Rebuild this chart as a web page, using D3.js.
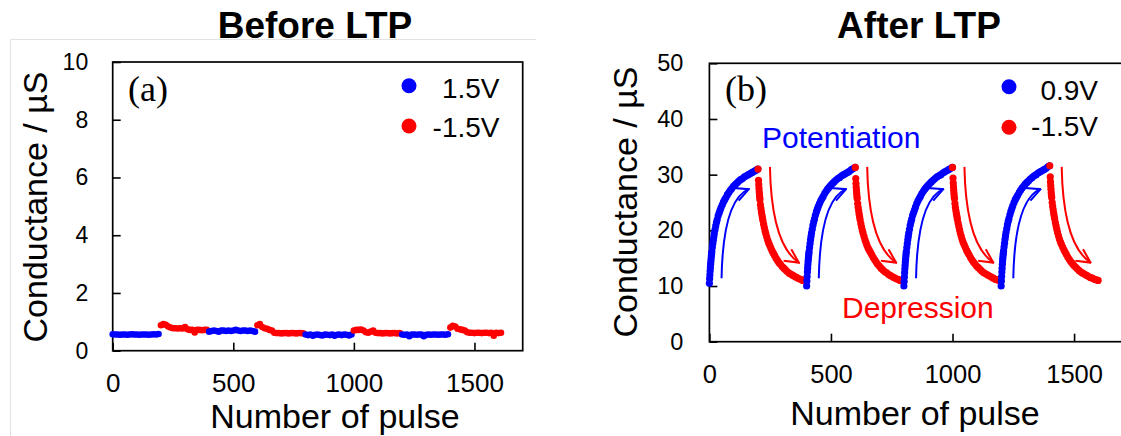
<!DOCTYPE html>
<html>
<head>
<meta charset="utf-8">
<script src="https://cdn.jsdelivr.net/npm/d3@7"></script>
<style>
  body { margin: 0; background: #fff; }
  svg { display: block; font-family: "Liberation Sans", Arial, sans-serif; }
  .tick line { stroke: #000; stroke-width: 1.6; }
  .tick text { fill: #000; font-family: "Liberation Sans", Arial, sans-serif; }
</style>
</head>
<body>
<div id="chart"></div>
<script>
// two panels: conductance vs pulse number, before / after LTP

const pulseTicks = [0, 500, 1000, 1500];
const beforeTicks = [0, 2, 4, 6, 8, 10];
const afterTicks = [0, 10, 20, 30, 40, 50];

// --- before LTP (read every 10 pulses) ---
const beforeStep = 10;
const beforeBlueStarts = [0, 400, 800, 1200];
const beforeRedStarts = [200, 600, 1000, 1400];
const beforeBlue1 = [0.57,0.56,0.56,0.55,0.56,0.56,0.55,0.56,0.57,0.56,0.56,0.55,0.56,0.56,0.56,0.55,0.56,0.57,0.56,0.58];
const beforeBlue2 = [0.66,0.68,0.70,0.68,0.66,0.70,0.70,0.68,0.70,0.68,0.70,0.72,0.70,0.68,0.70,0.70,0.68,0.70,0.68,0.66];
const beforeBlue3 = [0.56,0.54,0.56,0.52,0.55,0.56,0.54,0.53,0.56,0.55,0.54,0.56,0.52,0.55,0.56,0.54,0.56,0.55,0.53,0.56];
const beforeBlue4 = [0.56,0.55,0.56,0.50,0.56,0.56,0.55,0.56,0.56,0.50,0.55,0.56,0.55,0.56,0.56,0.55,0.56,0.56,0.55,0.57];
const beforeRed1 = [0.88,0.92,0.90,0.84,0.80,0.78,0.78,0.77,0.78,0.77,0.82,0.74,0.72,0.72,0.63,0.72,0.72,0.71,0.72,0.72];
const beforeRed2 = [0.88,0.92,0.82,0.78,0.76,0.72,0.70,0.62,0.61,0.61,0.60,0.61,0.61,0.60,0.61,0.61,0.60,0.61,0.61,0.60];
const beforeRed3 = [0.70,0.72,0.72,0.73,0.70,0.64,0.62,0.66,0.70,0.62,0.61,0.61,0.60,0.61,0.61,0.60,0.61,0.61,0.60,0.61];
const beforeRed4 = [0.80,0.86,0.84,0.76,0.74,0.72,0.70,0.64,0.62,0.62,0.61,0.62,0.62,0.61,0.62,0.62,0.61,0.62,0.52,0.62,0.61,0.62];

// --- after LTP ---
const potStarts = [0, 400, 800, 1200];
const depStarts = [200, 600, 1000, 1400];
const potOffsets = [0,1,2,3,4,5,6,7,8,9,10,12,14,16,18,20,23,26,29,32,36,40,44,48,53,58,63,68,74,80,86,92,99,106,113,120,128,136,144,152,160,168,176,184,192,199];
const pot1 = [10.5,11.3,12.0,12.7,13.3,13.9,14.4,14.9,15.4,15.8,16.2,16.9,17.6,18.2,18.8,19.4,20.1,20.8,21.4,21.9,22.6,23.1,23.6,24.1,24.6,25.1,25.5,25.9,26.4,26.8,27.2,27.5,27.9,28.2,28.5,28.8,29.1,29.3,29.6,29.8,30.0,30.2,30.4,30.6,30.8,31.0];
const pot2 = [10.0,10.9,11.7,12.5,13.2,13.8,14.4,14.9,15.4,15.8,16.2,16.9,17.6,18.3,18.9,19.5,20.2,20.9,21.5,22.0,22.7,23.3,23.8,24.3,24.8,25.3,25.7,26.1,26.6,27.0,27.4,27.7,28.1,28.4,28.7,29.0,29.3,29.5,29.8,30.0,30.2,30.4,30.6,30.9,31.1,31.3];
const pot3 = [10.0,10.8,11.6,12.4,13.1,13.7,14.3,14.8,15.3,15.8,16.2,16.9,17.6,18.3,18.9,19.5,20.2,20.9,21.5,22.0,22.7,23.2,23.7,24.2,24.8,25.3,25.7,26.1,26.6,27.0,27.4,27.7,28.1,28.4,28.7,29.0,29.3,29.6,29.8,30.0,30.3,30.5,30.7,30.9,31.1,31.3];
const pot4 = [10.0,10.9,11.7,12.5,13.2,13.9,14.5,15.0,15.5,15.9,16.3,17.0,17.7,18.4,19.0,19.6,20.3,21.0,21.6,22.1,22.8,23.4,23.9,24.4,25.0,25.5,25.9,26.3,26.8,27.2,27.6,27.9,28.3,28.6,28.9,29.2,29.5,29.8,30.0,30.3,30.5,30.7,30.9,31.1,31.4,31.6];
const depOffsets = [0,2,3,4,5,6,7,8,10,12,14,16,18,20,23,26,29,32,36,40,44,48,53,58,63,68,74,80,86,92,99,106,113,120,128,136,144,152,160,168,176,184,192,199];
const dep1 = [31.0,29.0,28.2,27.5,26.9,26.4,25.9,25.5,24.6,23.9,23.3,22.8,22.3,21.8,21.1,20.5,19.9,19.4,18.8,18.2,17.7,17.3,16.8,16.3,15.9,15.5,15.0,14.6,14.2,13.9,13.5,13.2,12.9,12.6,12.3,12.1,11.9,11.7,11.5,11.3,11.2,11.0,10.9,10.8];
const dep2 = [31.3,29.3,28.4,27.7,27.1,26.6,26.1,25.7,24.8,24.1,23.5,22.9,22.4,21.9,21.2,20.6,20.0,19.5,18.9,18.3,17.8,17.3,16.8,16.4,16.0,15.6,15.1,14.7,14.3,13.9,13.6,13.2,12.9,12.6,12.4,12.1,11.9,11.7,11.5,11.3,11.2,11.0,10.9,10.8];
const dep3 = [31.3,29.4,28.5,27.8,27.2,26.6,26.1,25.7,24.8,24.1,23.5,23.0,22.5,22.0,21.3,20.7,20.1,19.5,18.9,18.3,17.8,17.4,16.9,16.4,16.0,15.6,15.1,14.7,14.3,14.0,13.6,13.3,13.0,12.7,12.4,12.2,12.0,11.8,11.6,11.4,11.2,11.1,11.0,10.9];
const dep4 = [31.6,29.6,28.7,28.0,27.4,26.8,26.3,25.9,25.0,24.3,23.7,23.1,22.6,22.1,21.4,20.8,20.2,19.6,19.0,18.4,17.9,17.5,17.0,16.5,16.1,15.7,15.2,14.8,14.4,14.1,13.7,13.4,13.1,12.8,12.5,12.3,12.1,11.9,11.7,11.5,11.4,11.2,11.1,11.0];

// arrow annotations, [pulse offset from cycle start, conductance]
const upArrow = [[50, 11.4], [56, 25.5], [162, 27.4]];
const downArrow = [[249, 31.4], [255, 17.5], [368, 14.2]];

const blue = "#0000ff";
const red = "#ff0000";

const svg = d3.select("#chart").append("svg")
  .attr("width", 1121)
  .attr("height", 436);

svg.append("path")
  .attr("d", "M10.5,436 V39.5 H536")
  .attr("fill", "none")
  .attr("stroke", "#e2e2e2")
  .attr("stroke-width", 1);

const defs = svg.append("defs");
[["headBlue", blue], ["headRed", red]].forEach(([id, c]) => {
  defs.append("marker")
    .attr("id", id)
    .attr("markerUnits", "userSpaceOnUse")
    .attr("viewBox", "0 0 14 14")
    .attr("refX", 13).attr("refY", 7)
    .attr("markerWidth", 16).attr("markerHeight", 16)
    .attr("orient", "auto")
    .append("path")
    .attr("d", "M1,1 L13,7 L1,13")
    .attr("fill", "none")
    .attr("stroke", c)
    .attr("stroke-width", 1.8);
});

function panel(opt) {
  const x = d3.scaleLinear().domain([0, 1700]).range(opt.xr);
  const y = d3.scaleLinear().domain(opt.yd).range(opt.yr);
  const g = svg.append("g");

  g.append("g")
    .attr("transform", `translate(0, ${opt.yr[0]})`)
    .call(d3.axisBottom(x).tickValues(pulseTicks).tickFormat(d3.format("d"))
      .tickSizeInner(-8).tickSizeOuter(0).tickPadding(opt.xPad))
    .call(a => a.select(".domain").remove())
    .call(a => a.attr("font-family", null).attr("font-size", null))
    .selectAll("text").style("font-size", opt.xFont + "px");

  g.append("g")
    .attr("transform", `translate(${opt.xr[0]}, 0)`)
    .call(d3.axisLeft(y).tickValues(opt.yTicks).tickFormat(d3.format("d"))
      .tickSizeInner(-8).tickSizeOuter(0).tickPadding(opt.yPad))
    .call(a => a.select(".domain").remove())
    .call(a => a.attr("font-family", null).attr("font-size", null))
    .selectAll("text").style("font-size", opt.yFont + "px");

  g.append("rect")
    .attr("x", opt.xr[0]).attr("y", opt.yr[1])
    .attr("width", opt.xr[1] - opt.xr[0])
    .attr("height", opt.yr[0] - opt.yr[1])
    .attr("fill", "none")
    .attr("stroke", "#000")
    .attr("stroke-width", 1.7);

  return { x, y, g };
}

// ---------- panel (a) ----------
const A = panel({ xr: [112.7, 522.7], yd: [0, 10], yr: [350.7, 62], yTicks: beforeTicks,
  xPad: 23, xFont: 26, yPad: 24.5, yFont: 23 });

const beforeSegs = [
  [beforeBlueStarts[0], beforeBlue1, blue], [beforeRedStarts[0], beforeRed1, red],
  [beforeBlueStarts[1], beforeBlue2, blue], [beforeRedStarts[1], beforeRed2, red],
  [beforeBlueStarts[2], beforeBlue3, blue], [beforeRedStarts[2], beforeRed3, red],
  [beforeBlueStarts[3], beforeBlue4, blue], [beforeRedStarts[3], beforeRed4, red]
];
beforeSegs.forEach(([start, vals, c]) => {
  A.g.append("g").selectAll("circle")
    .data(vals)
    .join("circle")
    .attr("cx", (d, i) => A.x(start + i * beforeStep))
    .attr("cy", d => A.y(d))
    .attr("r", 3.3)
    .attr("fill", c);
});

// ---------- panel (b) ----------
const B = panel({ xr: [709.4, 1122.7], yd: [0, 50], yr: [341.7, 63.3], yTicks: afterTicks,
  xPad: 23.5, xFont: 25.5, yPad: 26, yFont: 23.5 });

const potSeries = [pot1, pot2, pot3, pot4];
const depSeries = [dep1, dep2, dep3, dep4];
potSeries.forEach((vals, k) => {
  B.g.append("g").selectAll("circle")
    .data(vals)
    .join("circle")
    .attr("cx", (d, i) => B.x(potStarts[k] + potOffsets[i]))
    .attr("cy", d => B.y(d))
    .attr("r", 3.6)
    .attr("fill", blue);
  B.g.append("g").selectAll("circle")
    .data(depSeries[k])
    .join("circle")
    .attr("cx", (d, i) => B.x(depStarts[k] + depOffsets[i]))
    .attr("cy", d => B.y(d))
    .attr("r", 3.6)
    .attr("fill", red);
});

const curve = (pts, s) => {
  const p = pts.map(([dx, v]) => [B.x(s + dx), B.y(v)]);
  return `M${p[0]} Q${p[1]} ${p[2]}`;
};
potStarts.forEach(s => {
  B.g.append("path").attr("d", curve(upArrow, s))
    .attr("fill", "none").attr("stroke", blue).attr("stroke-width", 2)
    .attr("marker-end", "url(#headBlue)");
  B.g.append("path").attr("d", curve(downArrow, s))
    .attr("fill", "none").attr("stroke", red).attr("stroke-width", 2)
    .attr("marker-end", "url(#headRed)");
});

// ---------- texts ----------
svg.append("text").attr("x", 315).attr("y", 38).attr("text-anchor", "middle")
  .style("font-size", "37px").style("font-weight", "bold").text("Before LTP");
svg.append("text").attr("x", 919).attr("y", 38).attr("text-anchor", "middle")
  .style("font-size", "37px").style("font-weight", "bold").text("After LTP");

svg.append("text").attr("x", 335).attr("y", 428).attr("text-anchor", "middle")
  .style("font-size", "34px").text("Number of pulse");
svg.append("text").attr("x", 915).attr("y", 425).attr("text-anchor", "middle")
  .style("font-size", "34px").text("Number of pulse");

svg.append("text").attr("transform", "translate(46.5, 207) rotate(-90)").attr("text-anchor", "middle")
  .style("font-size", "34px").text("Conductance / µS");
svg.append("text").attr("transform", "translate(637, 202) rotate(-90)").attr("text-anchor", "middle")
  .style("font-size", "34px").text("Conductance / µS");

svg.append("text").attr("x", 128).attr("y", 101)
  .style("font-family", "'Liberation Serif', 'Times New Roman', serif").style("font-size", "36px").text("(a)");
svg.append("text").attr("x", 725).attr("y", 100.5)
  .style("font-family", "'Liberation Serif', 'Times New Roman', serif").style("font-size", "36px").text("(b)");

svg.append("text").attr("x", 762).attr("y", 148).attr("fill", blue)
  .style("font-size", "30px").text("Potentiation");
svg.append("text").attr("x", 842).attr("y", 318).attr("fill", red)
  .style("font-size", "30px").text("Depression");

// legends
const legend = (cx, tx, rows) => {
  rows.forEach(([label, c, cy, by]) => {
    svg.append("circle").attr("cx", cx).attr("cy", cy).attr("r", 7.5).attr("fill", c);
    svg.append("text").attr("x", tx).attr("y", by).attr("text-anchor", "end")
      .style("font-size", "28px").text(label);
  });
};
legend(409, 499.5, [["1.5V", blue, 85.7, 98], ["-1.5V", red, 126, 137]]);
legend(1009, 1098, [["0.9V", blue, 86.7, 100], ["-1.5V", red, 127.3, 135.5]]);
</script>
</body>
</html>
